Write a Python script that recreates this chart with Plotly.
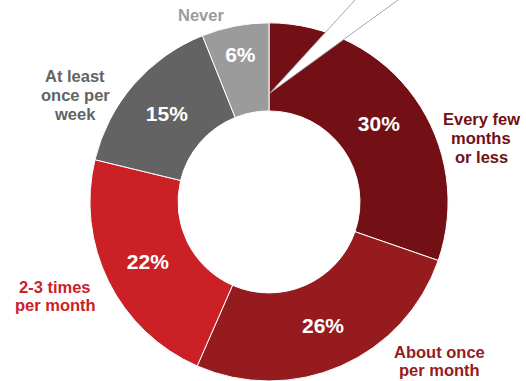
import plotly.graph_objects as go

categories = ["Every few months or less", "About once per month", "2-3 times per month",
              "At least once per week", "Never"]
label_lines = [["Every few", "months", "or less"], ["About once", "per month"],
               ["2-3 times", "per month"], ["At least", "once per", "week"], ["Never"]]
values = [30, 26, 22, 15, 6]
colors = ["#731015", "#951b1f", "#cc2027", "#636363", "#9b9b9b"]

W, H = 526, 381
LINE = 18.6

fig = go.Figure()
fig.add_trace(go.Pie(
    labels=categories,
    values=values,
    sort=False,
    direction="clockwise",
    rotation=0,
    hole=0.508,
    marker=dict(colors=colors, line=dict(color="white", width=1)),
    texttemplate="%{value}%",
    textposition="inside",
    insidetextorientation="horizontal",
    textfont=dict(family="Liberation Sans, Arial, sans-serif", size=21, color="white", weight="bold"),
    domain=dict(x=[0.1614, 0.8614], y=[0.0, 0.94]),
    showlegend=False,
    hoverinfo="label+percent",
))

# outside category labels: block centre (x, y) in pixels
label_pos = [(481, 138), (439, 361), (55, 296), (75, 95), (201, 15)]
for lines, col, (px, py) in zip(label_lines, colors, label_pos):
    n = len(lines)
    for i, line in enumerate(lines):
        yy = py + (i - (n - 1) / 2) * LINE
        fig.add_annotation(
            x=px / W, y=1 - yy / H, xref="paper", yref="paper",
            text=line, showarrow=False, xanchor="center", yanchor="middle",
            borderpad=0,
            font=dict(family="Liberation Sans, Arial, sans-serif", size=16.5, color=col, weight="bold"),
        )

# callout wedge pointing out of the top of the chart
ax, ay = 270 / W, 1 - 93 / H
def ext(px_top):
    dx = (px_top - 270) / W
    dy = 93 / H
    k = 1.2
    return ax + dx * k, ay + dy * k
x1, y1 = ext(355)
x2, y2 = ext(398)
fig.add_shape(type="path", xref="paper", yref="paper",
              path=f"M {ax},{ay} L {x1},{y1} L {x2},{y2} Z",
              fillcolor="white", line=dict(color="#a8a8a8", width=1))

fig.update_layout(
    width=W, height=H,
    margin=dict(l=0, r=0, t=0, b=0),
    paper_bgcolor="white",
    plot_bgcolor="white",
)

fig.write_html("out.html")
